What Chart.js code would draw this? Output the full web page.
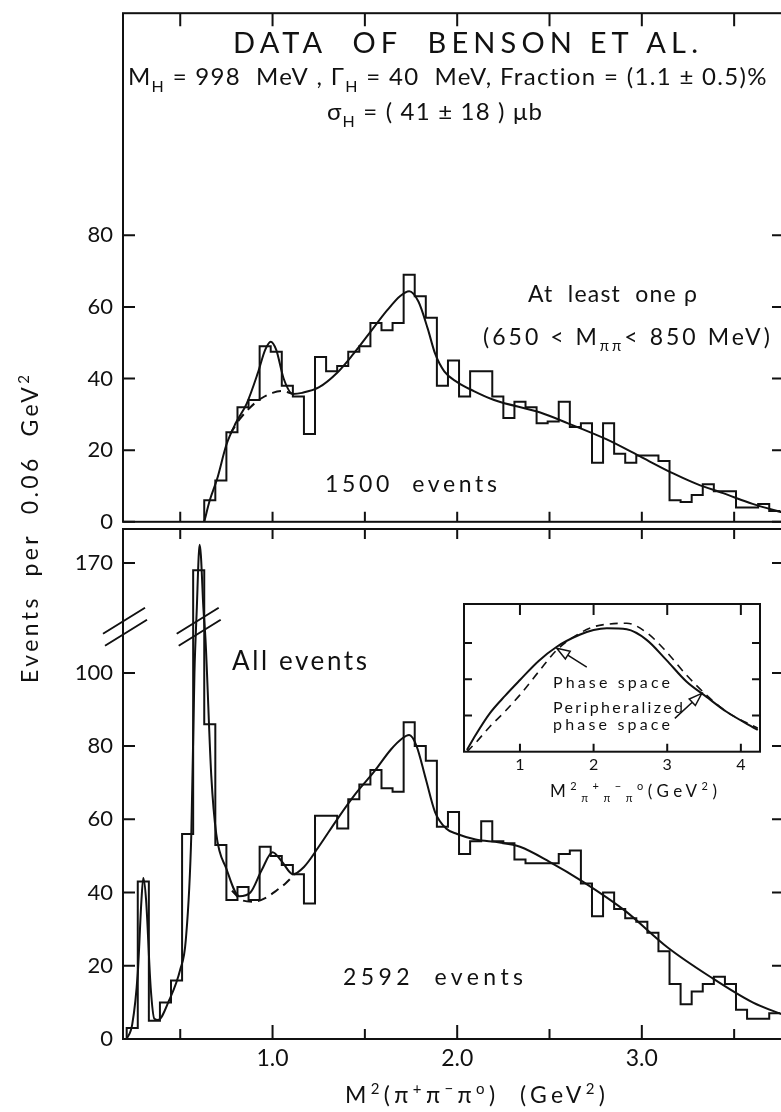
<!doctype html>
<html lang="en">
<head>
<meta charset="UTF-8" />
<title>Data of Benson et al.</title>
<script src="https://cdn.jsdelivr.net/npm/chart.js"></script>
<style>
  html, body { margin: 0; padding: 0; background: #fff; overflow: hidden; }
  #page { position: relative; width: 781px; height: 1112px; overflow: hidden; background: #fff; }
  canvas { position: absolute; }
  #bottomChart { left: 0; top: 0; z-index: 1; }
  #topChart { left: 0; top: -10px; z-index: 2; }
  #insetChart { left: 450px; top: 596px; z-index: 3; }
</style>
</head>
<body>
<div id="page">
  <canvas id="bottomChart" width="786" height="1112"></canvas>
  <canvas id="topChart" width="786" height="555"></canvas>
  <canvas id="insetChart" width="331" height="215"></canvas>
</div>
<script>
const INK = '#111'
const FONT = "Lato, 'DejaVu Sans', sans-serif"

// histogram binning, GeV^2
const binWidth = 0.06
const topFirstEdge = 0.63
const bottomFirstEdge = 0.21

// at least one rho (1500 events), one value per 0.06 GeV^2 bin
const topCounts = [6, 11.5, 25, 32, 34, 49, 47.5, 38, 35, 24.5,
  46, 42, 43.5, 47.5, 49, 55.5, 53.5, 55.5, 69, 63,
  57, 38, 45, 35, 42, 42, 35, 29, 33.5, 32,
  27.5, 28, 33.5, 26.5, 27.5, 16.5, 27.5, 19, 16.5, 18.5,
  18.5, 17, 6, 5.5, 7.5, 10.5, 8.5, 8.5, 4, 4,
  5, 3]

// all events (2592 events)
const bottomCounts = [3, 43, 5, 10, 16, 56, 168, 86, 53, 38,
  41.5, 38, 52.5, 50, 47.5, 45, 37, 61, 61, 57.5,
  65.5, 69.5, 73.5, 68.5, 67.5, 86.5, 80, 76, 58, 62,
  50.5, 54, 59.5, 54, 53.5, 49, 48, 48, 48, 50.5,
  51.5, 42.5, 33.5, 40, 35.5, 33, 32, 29, 24, 15,
  9.5, 13, 15, 17, 15, 8, 5.5, 5.5, 7]

// fitted curves [M^2, events]
const topFit = [[0.63, 0], [0.66, 6], [0.70, 12], [0.75, 21.5], [0.80, 27.5], [0.86, 33],
  [0.92, 41.5], [0.96, 48], [0.99, 50.3], [1.02, 48], [1.06, 40], [1.11, 35.7], [1.16, 36],
  [1.25, 37.5], [1.35, 41.6], [1.44, 47], [1.53, 53], [1.62, 59], [1.69, 63], [1.74, 64.4],
  [1.79, 61.5], [1.84, 54], [1.88, 47], [1.93, 42], [2.0, 39], [2.09, 36.5], [2.2, 34],
  [2.45, 30.5], [2.6, 27.5], [2.81, 23], [3.0, 18], [3.17, 13.5], [3.3, 10.5], [3.44, 8],
  [3.6, 5], [3.77, 2.5]]
const topBackground = [[0.77, 24.5], [0.82, 28.5], [0.88, 32], [0.94, 34.5], [1.0, 36],
  [1.05, 36.5], [1.11, 35.7]]

const bottomFit = [[0.21, 0], [0.24, 4], [0.27, 18], [0.29, 38], [0.30, 44], [0.315, 38],
  [0.34, 14], [0.36, 5.5], [0.38, 5.2], [0.44, 10.6], [0.50, 19], [0.53, 27], [0.56, 56],
  [0.577, 100], [0.59, 150], [0.60, 172], [0.605, 175], [0.612, 172], [0.625, 150],
  [0.637, 109], [0.668, 72], [0.695, 56], [0.75, 46.5], [0.82, 39], [0.88, 40], [0.94, 46],
  [1.0, 51], [1.05, 48.5], [1.11, 45], [1.17, 47], [1.25, 52.5], [1.35, 60], [1.45, 67],
  [1.55, 73], [1.64, 79], [1.70, 82], [1.74, 83], [1.78, 80], [1.83, 71], [1.88, 62],
  [1.94, 57.5], [2.0, 56], [2.1, 54.5], [2.23, 53.7], [2.34, 52.5], [2.5, 48.4], [2.68, 43],
  [2.91, 35], [3.14, 25], [3.37, 17], [3.6, 10], [3.77, 6.5]]
const bottomBackground = [[0.78, 40.5], [0.84, 37.8], [0.90, 37.5], [0.96, 38.5],
  [1.02, 40.5], [1.07, 42.5], [1.12, 45]]

// inset: phase space shapes (arbitrary units)
const phaseSpace = [[0.28, 0.05], [0.4, 0.47], [0.59, 1.06], [0.8, 1.55], [1.0, 1.98],
  [1.25, 2.5], [1.5, 2.9], [1.81, 3.23], [2.0, 3.36], [2.18, 3.41], [2.45, 3.38],
  [2.72, 3.09], [2.99, 2.53], [3.26, 1.94], [3.53, 1.52], [3.8, 1.11], [4.23, 0.6]]
const periphPhaseSpace = [[0.28, 0], [0.4, 0.25], [0.59, 0.69], [0.8, 1.12], [1.0, 1.57],
  [1.25, 2.2], [1.5, 2.81], [1.81, 3.27], [2.0, 3.45], [2.18, 3.52], [2.45, 3.55],
  [2.72, 3.29], [2.99, 2.76], [3.26, 2.12], [3.53, 1.57], [3.8, 1.11], [4.23, 0.65]]

// ticks
const xTickLabels = [1, 2, 3]
const xTickMarks = [0.5, 1, 1.5, 2, 2.5, 3, 3.5]
const topYTicks = [0, 20, 40, 60, 80]
const bottomYTicks = [0, 20, 40, 60, 80, 100, 170]
const insetXTicks = [1, 2, 3, 4]
const insetYTicks = [1, 2, 3]

// broken axis in the lower panel: above the break everything is moved down by 40
const breakLow = 110
const breakHigh = 160
const breakShift = 40
const toAxis = (v) => {
  if (v <= breakLow) return v
  if (v >= breakHigh) return v - breakShift
  return breakLow + (v - breakLow) * (breakHigh - breakShift - breakLow) / (breakHigh - breakLow)
}

const histPoints = (firstEdge, counts, tf = (v) => v) => {
  const pts = [{ x: firstEdge, y: 0 }]
  counts.forEach((c, i) => pts.push({ x: firstEdge + i * binWidth, y: tf(c) }))
  pts.push({ x: firstEdge + counts.length * binWidth, y: tf(counts[counts.length - 1]) })
  return pts
}
const curvePoints = (arr, tf = (v) => v) => arr.map(([x, y]) => ({ x, y: tf(y) }))

// text with sub/superscripts, stretched from x0 to x1 with letter spacing
function drawRich(ctx, segs, x0, x1, base, size, weight = 400) {
  const small = Math.round(size * 0.66)
  const fontFor = (k) => `${weight} ${k ? small : size}px ${FONT}`
  const shiftFor = (k) => (k === 'sub' ? size * 0.28 : k === 'sup' ? -size * 0.4 : 0)
  const hasLS = 'letterSpacing' in ctx
  if (hasLS) ctx.letterSpacing = '0px'
  let w = 0
  let n = 0
  segs.forEach(([t, k]) => {
    ctx.font = fontFor(k)
    w += ctx.measureText(t).width
    n += [...t].length
  })
  const gap = hasLS && x1 != null && n > 1 ? (x1 - x0 - w) / (n - 1) : 0
  let x = x0
  ctx.textAlign = 'left'
  ctx.textBaseline = 'alphabetic'
  segs.forEach(([t, k]) => {
    ctx.font = fontFor(k)
    if (hasLS) ctx.letterSpacing = '0px'
    const tw = ctx.measureText(t).width
    if (hasLS) ctx.letterSpacing = gap + 'px'
    ctx.fillText(t, x, base + shiftFor(k))
    x += tw + [...t].length * gap
  })
  if (hasLS) ctx.letterSpacing = '0px'
}

// frame with inward tick marks on all four sides
const frameTicks = {
  id: 'frameTicks',
  afterDatasetsDraw(chart, args, o) {
    const { ctx, chartArea: a } = chart
    const x = chart.scales.x
    const y = chart.scales.y
    ctx.save()
    ctx.strokeStyle = INK
    ctx.lineWidth = o.lineWidth || 2
    ctx.strokeRect(a.left, a.top, a.right - a.left, a.bottom - a.top)
    ctx.beginPath()
    ;(o.x || []).forEach(([v, lenBottom, lenTop]) => {
      const px = x.getPixelForValue(v)
      if (lenBottom) { ctx.moveTo(px, a.bottom); ctx.lineTo(px, a.bottom - lenBottom) }
      if (lenTop) { ctx.moveTo(px, a.top); ctx.lineTo(px, a.top + lenTop) }
    })
    ;(o.y || []).forEach((v) => {
      const py = y.getPixelForValue(v)
      ctx.moveTo(a.left, py); ctx.lineTo(a.left + o.yLen, py)
      ctx.moveTo(a.right, py); ctx.lineTo(a.right - o.yLen, py)
    })
    ctx.stroke()
    ctx.restore()
  }
}

// break marks + all the free text of the figure (drawn on the full page canvas)
const pageText = {
  id: 'pageText',
  afterDatasetsDraw(chart) {
    const { ctx, chartArea: a, scales: { x, y } } = chart
    ctx.save()
    ctx.strokeStyle = INK
    ctx.lineWidth = 2
    const by = y.getPixelForValue(toAxis(123))
    ;[a.left + 2, x.getPixelForValue(0.60)].forEach((cx) => {
      ctx.beginPath()
      ;[[-1, -6], [1, 6]].forEach(([dx, dy]) => {
        ctx.moveTo(cx + dx - 21, by + dy + 13)
        ctx.lineTo(cx + dx + 21, by + dy - 13)
      })
      ctx.stroke()
    })

    ctx.fillStyle = INK
    drawRich(ctx, [['DATA  OF  BENSON ET AL.', '']], 233, 698, 53, 29)
    drawRich(ctx, [['M', ''], ['H', 'sub'], [' = 998  MeV , ', ''], ['Γ', ''], ['H', 'sub'],
      [' = 40  MeV, Fraction = (1.1 ± 0.5)%', '']], 128, 767, 85, 24)
    drawRich(ctx, [['σ', ''], ['H', 'sub'], [' = ( 41 ± 18 ) μb', '']], 327, 542, 120, 24)
    drawRich(ctx, [['At  least  one ρ', '']], 528, 697, 302, 23)
    drawRich(ctx, [['(650 < M', ''], ['ππ', 'sub'], ['< 850 MeV)', '']], 483, 770, 345, 23)
    drawRich(ctx, [['1500  events', '']], 325, 497, 492, 23)
    drawRich(ctx, [['All events', '']], 232, 367, 670, 26)
    drawRich(ctx, [['2592  events', '']], 343, 523, 985, 23)
    drawRich(ctx, [['M', ''], ['2', 'sup'], ['(π', ''], ['+', 'sup'], ['π', ''], ['−', 'sup'],
      ['π', ''], ['o', 'sup'], [')  (GeV', ''], ['2', 'sup'], [')', '']], 345, 605, 1103, 23)

    ctx.translate(38, 529)
    ctx.rotate(-Math.PI / 2)
    drawRich(ctx, [['Events  per  0.06  GeV', ''], ['2', 'sup']], -154, 154, 0, 23)
    ctx.restore()
  }
}

const insetText = {
  id: 'insetText',
  afterDatasetsDraw(chart) {
    const { ctx, chartArea: a, scales: { x, y } } = chart
    ctx.save()
    ctx.fillStyle = INK
    ctx.strokeStyle = INK
    ctx.lineWidth = 1.5
    const L = a.left
    const T = a.top
    drawRich(ctx, [['Phase space', '']], L + 89, L + 206, T + 84, 16)
    drawRich(ctx, [['Peripheralized', '']], L + 89, L + 219, T + 109, 16)
    drawRich(ctx, [['phase space', '']], L + 89, L + 206, T + 126, 16)
    drawRich(ctx, [['M', ''], ['2', 'sup'], ['π', 'sub'], ['+', 'sup'], ['π', 'sub'], ['−', 'sup'],
      ['π', 'sub'], ['o', 'sup'], ['(GeV', ''], ['2', 'sup'], [')', '']], L + 86, L + 253, T + 193, 17)

    // arrows with open heads pointing at the curves
    const arrow = (tx, ty, fx, fy) => {
      const ang = Math.atan2(ty - fy, tx - fx)
      const hl = 13
      const hw = 4.5
      const bx = tx - hl * Math.cos(ang)
      const byy = ty - hl * Math.sin(ang)
      ctx.beginPath()
      ctx.moveTo(fx, fy)
      ctx.lineTo(bx, byy)
      ctx.moveTo(tx, ty)
      ctx.lineTo(bx + hw * Math.sin(ang), byy - hw * Math.cos(ang))
      ctx.lineTo(bx - hw * Math.sin(ang), byy + hw * Math.cos(ang))
      ctx.closePath()
      ctx.stroke()
    }
    const t1x = x.getPixelForValue(1.5)
    const t1y = y.getPixelForValue(2.86)
    arrow(t1x, t1y, t1x + 30, t1y + 19)
    const t2x = x.getPixelForValue(3.47)
    const t2y = y.getPixelForValue(1.61)
    arrow(t2x, t2y, t2x - 27, t2y + 25)
    ctx.restore()
  }
}

const lineSet = (data, extra = {}) => Object.assign({
  data,
  borderColor: INK,
  borderWidth: 2,
  pointRadius: 0,
  pointHoverRadius: 0,
  fill: false
}, extra)

const tickFont = (size) => ({ family: FONT, size, weight: 400 })

// lower panel: all events, owns the whole page canvas
new Chart(document.getElementById('bottomChart'), {
  type: 'line',
  data: {
    datasets: [
      lineSet(histPoints(bottomFirstEdge, bottomCounts, toAxis), { stepped: 'before' }),
      lineSet(curvePoints(bottomFit, toAxis), { cubicInterpolationMode: 'monotone' }),
      lineSet(curvePoints(bottomBackground, toAxis), { cubicInterpolationMode: 'monotone', borderDash: [9, 6] })
    ]
  },
  options: {
    responsive: false,
    animation: false,
    devicePixelRatio: 1,
    events: [],
    layout: { padding: { top: 529, right: 2, left: 0, bottom: 0 } },
    plugins: {
      legend: { display: false },
      tooltip: { enabled: false },
      frameTicks: {
        x: xTickMarks.map((v) => [v, Number.isInteger(v) ? 14 : 10, 10]),
        y: bottomYTicks.map(toAxis),
        yLen: 12
      }
    },
    scales: {
      x: {
        type: 'linear',
        min: 0.19,
        max: 3.77,
        grid: { display: false, drawTicks: false },
        border: { display: false },
        afterBuildTicks: (s) => { s.ticks = xTickLabels.map((value) => ({ value })) },
        afterFit: (s) => { s.height = 73 },
        ticks: {
          autoSkip: false,
          maxRotation: 0,
          padding: 6,
          color: INK,
          font: tickFont(23),
          callback: (v, i) => xTickLabels[i].toFixed(1)
        }
      },
      y: {
        min: 0,
        max: 139.3,
        grid: { display: false, drawTicks: false },
        border: { display: false },
        afterBuildTicks: (s) => { s.ticks = bottomYTicks.map((v) => ({ value: toAxis(v) })) },
        afterFit: (s) => { s.width = 123 },
        ticks: {
          autoSkip: false,
          padding: 10,
          color: INK,
          font: tickFont(22),
          callback: (v, i) => bottomYTicks[i]
        }
      }
    }
  },
  plugins: [frameTicks, pageText]
})

// upper panel: at least one rho
new Chart(document.getElementById('topChart'), {
  type: 'line',
  data: {
    datasets: [
      lineSet(histPoints(topFirstEdge, topCounts), { stepped: 'before' }),
      lineSet(curvePoints(topFit), { cubicInterpolationMode: 'monotone' }),
      lineSet(curvePoints(topBackground), { cubicInterpolationMode: 'monotone', borderDash: [9, 6] })
    ]
  },
  options: {
    responsive: false,
    animation: false,
    devicePixelRatio: 1,
    events: [],
    layout: { padding: { top: 19, right: 2, left: 0, bottom: 16 } },
    plugins: {
      legend: { display: false },
      tooltip: { enabled: false },
      frameTicks: {
        x: xTickMarks.map((v) => [v, 10, 13]),
        y: topYTicks,
        yLen: 12
      }
    },
    scales: {
      x: { type: 'linear', min: 0.19, max: 3.77, display: false },
      y: {
        min: 0,
        max: 142,
        grid: { display: false, drawTicks: false },
        border: { display: false },
        afterBuildTicks: (s) => { s.ticks = topYTicks.map((value) => ({ value })) },
        afterFit: (s) => { s.width = 123 },
        ticks: {
          autoSkip: false,
          padding: 10,
          color: INK,
          font: tickFont(22),
          callback: (v, i) => topYTicks[i]
        }
      }
    }
  },
  plugins: [frameTicks]
})

// inset: phase space vs peripheralized phase space
new Chart(document.getElementById('insetChart'), {
  type: 'line',
  data: {
    datasets: [
      lineSet(curvePoints(phaseSpace), { cubicInterpolationMode: 'monotone' }),
      lineSet(curvePoints(periphPhaseSpace), { cubicInterpolationMode: 'monotone', borderDash: [8, 6], borderWidth: 1.6 })
    ]
  },
  options: {
    responsive: false,
    animation: false,
    devicePixelRatio: 1,
    events: [],
    layout: { padding: { top: 8, right: 21, left: 14, bottom: 0 } },
    plugins: {
      legend: { display: false },
      tooltip: { enabled: false },
      frameTicks: {
        x: insetXTicks.map((v) => [v, 8, 11]),
        y: insetYTicks,
        yLen: 8,
        lineWidth: 2
      }
    },
    scales: {
      x: {
        type: 'linear',
        min: 0.24,
        max: 4.26,
        grid: { display: false, drawTicks: false },
        border: { display: false },
        afterBuildTicks: (s) => { s.ticks = insetXTicks.map((value) => ({ value })) },
        afterFit: (s) => { s.height = 59.3 },
        ticks: {
          autoSkip: false,
          maxRotation: 0,
          padding: 4,
          color: INK,
          font: { family: FONT, size: 16 },
          callback: (v, i) => insetXTicks[i]
        }
      },
      y: { display: false, min: 0, max: 4.08 }
    }
  },
  plugins: [frameTicks, insetText]
})
</script>
</body>
</html>
